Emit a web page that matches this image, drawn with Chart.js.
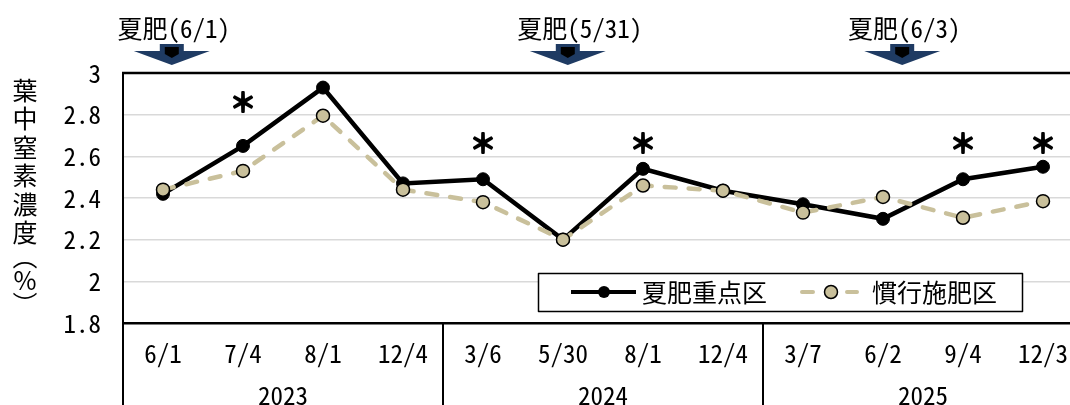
<!DOCTYPE html>
<html>
<head>
<meta charset="utf-8">
<script src="https://cdn.jsdelivr.net/npm/chart.js@4.4.1/dist/chart.umd.min.js"></script>
<style>
  html, body { margin: 0; padding: 0; background: #fff; overflow: hidden; }
  #wrap { width: 1084px; height: 405px; }
</style>
</head>
<body>
<div id="wrap"><canvas id="chart" width="1084" height="405"></canvas></div>
<script>
// ----------------------------
// データ
// ----------------------------
const categories = ["6/1", "7/4", "8/1", "12/4", "3/6", "5/30", "8/1", "12/4", "3/7", "6/2", "9/4", "12/3"];
const years = ["2023", "2024", "2025"];
const yearFirst = [0, 4, 8];
const yearLast = [3, 7, 11];
const summerFocus = [2.42, 2.65, 2.93, 2.47, 2.49, 2.20, 2.54, 2.435, 2.37, 2.30, 2.49, 2.55];
const conventional = [2.44, 2.53, 2.795, 2.44, 2.38, 2.20, 2.46, 2.435, 2.33, 2.405, 2.305, 2.385];
const yTicks = [1.8, 2, 2.2, 2.4, 2.6, 2.8, 3];
const seriesNames = ["夏肥重点区", "慣行施肥区"];
const yTitle = ["葉", "中", "窒", "素", "濃", "度", "︵", "%", "︶"];
// 有意差 (*) の位置
const sigIndex = [1, 4, 6, 10, 11];
const sigLevel = [2.86, 2.665, 2.665, 2.665, 2.665];
// 夏肥の施用日 (カテゴリ軸上の位置)
const fertLabels = ["夏肥(6/1)", "夏肥(5/31)", "夏肥(6/3)"];
const fertPos = [0.11, 5.06, 9.24];

const LAT = "'Noto Sans Mono CJK JP', 'DejaVu Sans Condensed'";
const CJK = "'Noto Sans CJK JP'";
const FONT = LAT + ", " + CJK + ", sans-serif";
const TAN = "#c9c09b";
const NAVY = "#1f3b63";

function drawArrow(ctx, cx) {
  ctx.fillStyle = NAVY;
  ctx.beginPath();
  ctx.moveTo(cx - 12, 44);
  ctx.lineTo(cx + 12, 44);
  ctx.lineTo(cx + 12, 51);
  ctx.lineTo(cx + 38, 51);
  ctx.lineTo(cx, 65);
  ctx.lineTo(cx - 38, 51);
  ctx.lineTo(cx - 12, 51);
  ctx.closePath();
  ctx.fill();
  ctx.fillStyle = "#000";
  ctx.beginPath();
  ctx.moveTo(cx - 7, 47);
  ctx.lineTo(cx + 7, 47);
  ctx.lineTo(cx + 7, 54);
  ctx.lineTo(cx, 58);
  ctx.lineTo(cx - 7, 54);
  ctx.closePath();
  ctx.fill();
}

const decorPlugin = {
  id: "decor",
  beforeDatasetsDraw(chart) {
    const ctx = chart.ctx;
    const a = chart.chartArea;
    const x = chart.scales.x;
    ctx.save();
    ctx.strokeStyle = "#000";
    // 上枠
    ctx.lineWidth = 2.5;
    ctx.beginPath();
    ctx.moveTo(a.left - 1, a.top);
    ctx.lineTo(a.right, a.top);
    ctx.stroke();
    // 左の縦線 (下端まで)
    ctx.lineWidth = 2;
    ctx.beginPath();
    ctx.moveTo(a.left, a.top);
    ctx.lineTo(a.left, chart.height);
    ctx.stroke();
    // 年の区切り線
    for (let k = 0; k < yearLast.length - 1; k++) {
      const px = (x.getPixelForValue(yearLast[k]) + x.getPixelForValue(yearFirst[k + 1])) / 2;
      ctx.beginPath();
      ctx.moveTo(px, a.bottom);
      ctx.lineTo(px, chart.height);
      ctx.stroke();
    }
    ctx.restore();
  },
  afterDraw(chart) {
    const ctx = chart.ctx;
    const x = chart.scales.x;
    const y = chart.scales.y;
    ctx.save();

    // 年ラベル
    ctx.fillStyle = "#000";
    ctx.font = "25px " + FONT;
    ctx.textAlign = "center";
    ctx.textBaseline = "middle";
    years.forEach((yr, k) => {
      const px = (x.getPixelForValue(yearFirst[k]) + x.getPixelForValue(yearLast[k])) / 2;
      ctx.fillText(yr, px, 395);
    });

    // 縦書きの軸タイトル
    ctx.font = "25px " + CJK;
    let ty = 90;
    yTitle.forEach((ch, k) => {
      ctx.fillText(ch, 25, ty);
      ty += k < 5 ? 28.5 : 24;
    });

    // 有意差マーク
    ctx.font = "26px " + CJK;
    ctx.strokeStyle = "#000";
    ctx.lineWidth = 2.2;
    ctx.lineJoin = "round";
    sigIndex.forEach((i, k) => {
      const sx = x.getPixelForValue(i);
      const sy = y.getPixelForValue(sigLevel[k]);
      ctx.fillText("＊", sx, sy);
      ctx.strokeText("＊", sx, sy);
    });

    // 夏肥の矢印とラベル
    ctx.font = "25px " + FONT;
    fertPos.forEach((p, k) => {
      const cx = x.getPixelForValue(p);
      drawArrow(ctx, cx);
      ctx.fillStyle = "#000";
      ctx.fillText(fertLabels[k], cx + (k === 1 ? 12 : 2), 28);
    });

    // 凡例
    ctx.fillStyle = "#fff";
    ctx.fillRect(538, 273, 484, 38);
    ctx.strokeStyle = "#000";
    ctx.lineWidth = 1.5;
    ctx.strokeRect(538.5, 273.5, 484, 38);
    const ly = 292;
    ctx.strokeStyle = "#000";
    ctx.lineWidth = 4;
    ctx.beginPath();
    ctx.moveTo(571, ly);
    ctx.lineTo(636, ly);
    ctx.stroke();
    ctx.fillStyle = "#000";
    ctx.beginPath();
    ctx.arc(604, ly, 6, 0, Math.PI * 2);
    ctx.fill();
    ctx.strokeStyle = TAN;
    ctx.lineCap = "round";
    ctx.beginPath();
    ctx.moveTo(802, ly); ctx.lineTo(813, ly);
    ctx.moveTo(847, ly); ctx.lineTo(857, ly);
    ctx.stroke();
    ctx.fillStyle = TAN;
    ctx.strokeStyle = "#000";
    ctx.lineWidth = 1.5;
    ctx.beginPath();
    ctx.arc(831, ly, 6.5, 0, Math.PI * 2);
    ctx.fill();
    ctx.stroke();
    ctx.fillStyle = "#000";
    ctx.font = "25px " + CJK;
    ctx.textAlign = "left";
    ctx.fillText(seriesNames[0], 642, ly);
    ctx.fillText(seriesNames[1], 872, ly);
    ctx.restore();
  }
};

const ctx = document.getElementById("chart").getContext("2d");
new Chart(ctx, {
  type: "line",
  data: {
    labels: categories,
    datasets: [
      {
        label: seriesNames[0],
        data: summerFocus,
        borderColor: "#000",
        backgroundColor: "#000",
        borderWidth: 4.5,
        pointRadius: 6.5,
        pointBorderWidth: 1,
        pointBorderColor: "#000",
        pointBackgroundColor: "#000",
        tension: 0,
        order: 1
      },
      {
        label: seriesNames[1],
        data: conventional,
        borderColor: TAN,
        backgroundColor: TAN,
        borderWidth: 4.5,
        borderDash: [11, 13],
        borderCapStyle: "round",
        pointRadius: 6.5,
        pointBorderWidth: 1.5,
        pointBorderColor: "#000",
        pointBackgroundColor: TAN,
        tension: 0,
        order: 0
      }
    ]
  },
  options: {
    responsive: false,
    animation: false,
    devicePixelRatio: 1,
    layout: { autoPadding: false, padding: { top: 73, right: 1, left: 0, bottom: 0 } },
    plugins: {
      legend: { display: false },
      tooltip: { enabled: false }
    },
    scales: {
      x: {
        offset: true,
        afterFit: s => { s.height = 82; },
        grid: { display: false, drawTicks: false },
        border: { display: true, color: "#000", width: 2.5 },
        ticks: {
          color: "#000",
          padding: 15,
          maxRotation: 0,
          autoSkip: false,
          font: { family: FONT, size: 25 }
        }
      },
      y: {
        min: 1.8,
        max: 3,
        afterFit: s => { s.width = 123; },
        afterBuildTicks: s => { s.ticks = yTicks.map(v => ({ value: v })); },
        grid: {
          drawTicks: false,
          lineWidth: 1.5,
          color: c => (Math.abs(c.tick.value - 1.8) < 1e-6 || Math.abs(c.tick.value - 3) < 1e-6) ? "rgba(0,0,0,0)" : "#d9d9d9"
        },
        border: { display: false },
        ticks: {
          color: "#000",
          padding: 22,
          font: { family: FONT, size: 25 },
          callback: v => String(Number(v.toFixed(1)))
        }
      }
    }
  },
  plugins: [decorPlugin]
});
</script>
</body>
</html>
